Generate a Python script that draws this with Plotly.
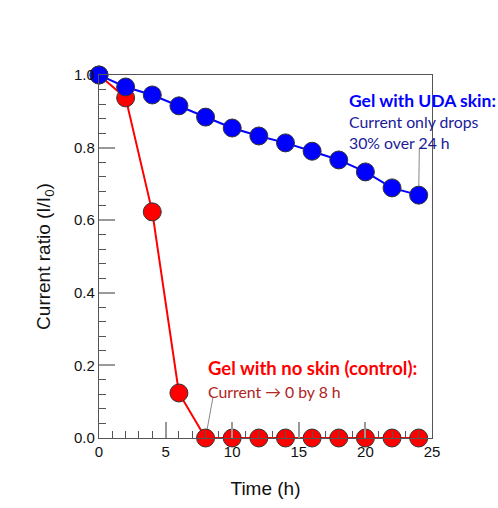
import plotly.graph_objects as go

time_h = [0, 2, 4, 6, 8, 10, 12, 14, 16, 18, 20, 22, 24]
uda_skin = [1.0, 0.967, 0.945, 0.915, 0.884, 0.854, 0.832, 0.813, 0.79, 0.766, 0.733, 0.689, 0.669]
no_skin = [1.0, 0.937, 0.623, 0.124, 0, 0, 0, 0, 0, 0, 0, 0, 0]

fig = go.Figure()
fig.add_trace(go.Scatter(x=time_h, y=no_skin, mode="lines+markers",
                         line=dict(color="#FF0000", width=2),
                         marker=dict(size=18, color="#FF0000", line=dict(color="#333333", width=1)),
                         cliponaxis=False, showlegend=False))
fig.add_trace(go.Scatter(x=time_h, y=uda_skin, mode="lines+markers",
                         line=dict(color="#0000FF", width=2),
                         marker=dict(size=18, color="#0000FF", line=dict(color="#333333", width=1)),
                         cliponaxis=False, showlegend=False))

axis_common = dict(showline=True, mirror=True, linecolor="#555555", linewidth=1.3,
                   ticks="inside", tickcolor="#999999", ticklen=16, tickwidth=2,
                   showgrid=False, zeroline=False,
                   tickfont=dict(family="Liberation Sans", size=15, color="#111111"),
                   title_font=dict(family="Liberation Sans", size=19, color="#111111"))

fig.update_xaxes(range=[0, 25], dtick=5, tick0=0,
                 minor=dict(ticks="inside", dtick=1, ticklen=7, tickcolor="#555555", tickwidth=1),
                 title_text="Time (h)", title_standoff=22, **axis_common)
fig.update_yaxes(range=[0, 1], dtick=0.2, tick0=0, tickformat=".1f",
                 minor=dict(ticks="inside", dtick=0.04, ticklen=7, tickcolor="#555555", tickwidth=1),
                 title_text="Current ratio (I/I<sub>0</sub>)", title_standoff=18, **axis_common)

ann_font = "Lato"
fig.add_annotation(x=18.6, y=0.931, xref="x", yref="y", xanchor="left", yanchor="middle",
                   text="<b>Gel with UDA skin:</b>", showarrow=False,
                   font=dict(family=ann_font, size=17.5, color="#0000FF"))
fig.add_annotation(x=18.6, y=0.873, xref="x", yref="y", xanchor="left", yanchor="middle",
                   text="Current only drops", showarrow=False,
                   font=dict(family=ann_font, size=15.8, color="#1a1a99"))
fig.add_annotation(x=18.6, y=0.815, xref="x", yref="y", xanchor="left", yanchor="middle",
                   text="30% over 24 h", showarrow=False,
                   font=dict(family=ann_font, size=15.8, color="#1a1a99"))
fig.add_annotation(x=8.0, y=0.193, xref="x", yref="y", xanchor="left", yanchor="middle",
                   text="<b>Gel with no skin (control):</b>", showarrow=False,
                   font=dict(family=ann_font, size=18.5, color="#FF0000"))
fig.add_annotation(x=8.0, y=0.127, xref="x", yref="y", xanchor="left", yanchor="middle",
                   text="Current \u2192 0 by 8 h", showarrow=False,
                   font=dict(family=ann_font, size=15.8, color="#b22222"))

fig.add_shape(type="line", x0=24.05, y0=0.80, x1=24.0, y1=0.669, xref="x", yref="y",
              line=dict(color="#888888", width=1), layer="below")
fig.add_shape(type="line", x0=8.56, y0=0.113, x1=8.0, y1=0.0, xref="x", yref="y",
              line=dict(color="#888888", width=1), layer="below")

fig.update_layout(width=498, height=508, margin=dict(l=99, r=66, t=75, b=70),
                  plot_bgcolor="white", paper_bgcolor="white")
fig.write_html("out.html")
